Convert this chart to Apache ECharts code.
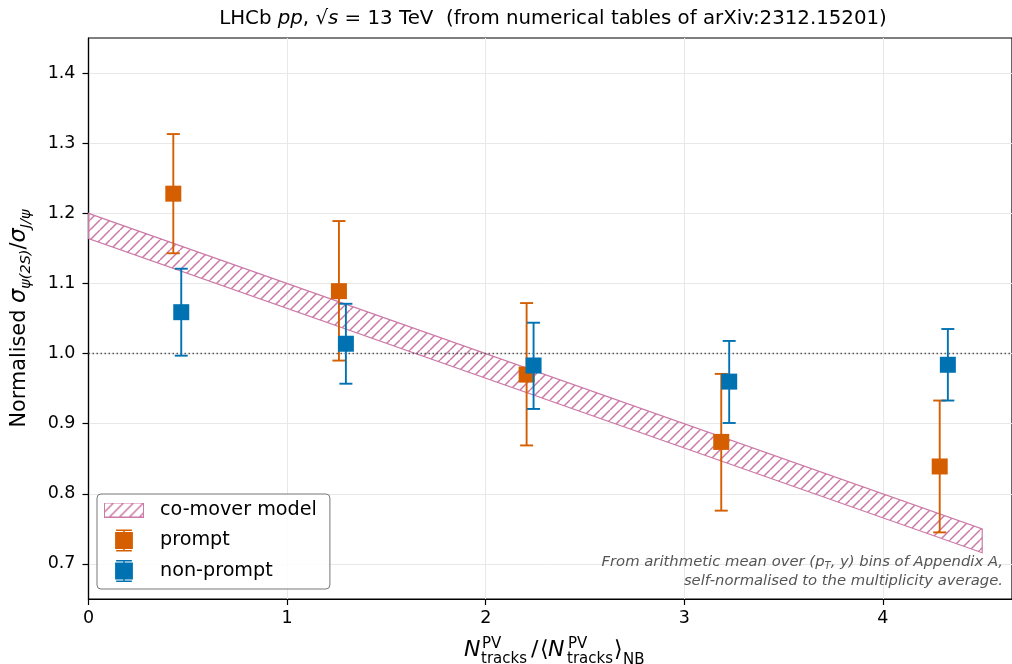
<!DOCTYPE html>
<html><head><meta charset="utf-8">
<script src="https://cdn.jsdelivr.net/npm/echarts@6/dist/echarts.min.js"></script>
<style>html,body{margin:0;padding:0;background:#fff}#c{width:1012px;height:664px}</style>
</head><body><div id="c"></div>
<script>
// ---- data ----
const promptX   = [0.427, 1.261, 2.206, 3.186, 4.286];
const promptY   = [1.228, 1.089, 0.970, 0.874, 0.839];
const promptLo  = [1.143, 0.990, 0.869, 0.776, 0.745];
const promptHi  = [1.313, 1.189, 1.072, 0.971, 0.933];
const nonPromptX  = [0.467, 1.296, 2.241, 3.226, 4.327];
const nonPromptY  = [1.059, 1.014, 0.983, 0.960, 0.984];
const nonPromptLo = [0.997, 0.957, 0.921, 0.901, 0.933];
const nonPromptHi = [1.121, 1.071, 1.044, 1.018, 1.035];
const bandX     = [0, 4.5];
const bandUpper = [1.200, 0.750];
const bandLower = [1.164, 0.716];
const xTicks = [0, 1, 2, 3, 4];
const yTicks = [0.7, 0.8, 0.9, 1.0, 1.1, 1.2, 1.3, 1.4];
const refLine = 1.0;

const PINK = '#CC79A7', ORANGE = '#D55E00', BLUE = '#0072B2';
const FONT = 'DejaVu Sans';

function hatchCanvas(w, h, size, color, lw, border) {
  const c = document.createElement('canvas'); c.width = w; c.height = h;
  const g = c.getContext('2d');
  g.strokeStyle = color; g.lineWidth = lw;
  g.beginPath();
  for (let k = -h - size; k < w + h + size; k += size) { g.moveTo(k, h); g.lineTo(k + h, 0); }
  g.stroke();
  if (border) { g.lineWidth = 1; g.strokeRect(0.5, 0.5, w - 1, h - 1); }
  return c;
}
const hatchTile = hatchCanvas(10, 10, 10, PINK, 1.5, false);
const hatchIcon = hatchCanvas(40, 15, 10, PINK, 1.5, true).toDataURL();
const errIcon = 'path://M1,0L16,0L16,1.5L9.2,1.5L9.2,2.5L17,2.5L17,18.5L9.2,18.5L9.2,19.5L16,19.5L16,21L1,21L1,19.5L7.8,19.5L7.8,18.5L0,18.5L0,2.5L7.8,2.5L7.8,1.5L1,1.5Z';

function errSeries(name, xs, lo, hi, color, z) {
  return {
    type: 'custom', name, z, itemStyle: {color},
    data: xs.map((x, i) => [x, lo[i], hi[i]]),
    renderItem(params, api) {
      const x = api.value(0);
      const l = api.coord([x, api.value(1)]);
      const h = api.coord([x, api.value(2)]);
      const cw = 6.5, st = {stroke: color, lineWidth: 1.9};
      return {type: 'group', children: [
        {type: 'line', shape: {x1: l[0], y1: l[1], x2: h[0], y2: h[1]}, style: st},
        {type: 'line', shape: {x1: l[0] - cw, y1: l[1], x2: l[0] + cw, y2: l[1]}, style: st},
        {type: 'line', shape: {x1: h[0] - cw, y1: h[1], x2: h[0] + cw, y2: h[1]}, style: st}
      ]};
    }
  };
}

function t(text, x, y, font) {
  return {type: 'text', x, y, style: {text, font, fill: '#000', verticalAlign: 'middle'}};
}

const chart = echarts.init(document.getElementById('c'));
const option = {
  animation: false,
  textStyle: {fontFamily: FONT},
  grid: {left: 87, right: 0, top: 38, bottom: 65, show: true, borderColor: '#000', borderWidth: 1.2, backgroundColor: 'transparent'},
  xAxis: {
    type: 'value', min: 0, max: 4.65,
    axisLine: {show: true, lineStyle: {color: '#000', width: 1.2}},
    axisTick: {show: true, length: 6, inside: false, lineStyle: {color: '#000', width: 1.2}, customValues: xTicks},
    axisLabel: {fontSize: 17.5, color: '#000', margin: 10, fontFamily: FONT, customValues: xTicks, formatter: v => String(v)},
    splitLine: {show: true, lineStyle: {color: '#e8e8e8', width: 1}}
  },
  yAxis: {
    type: 'value', min: 0.65, max: 1.45,
    axisLine: {show: true, lineStyle: {color: '#000', width: 1.2}},
    axisTick: {show: true, length: 6, lineStyle: {color: '#000', width: 1.2}, customValues: yTicks},
    axisLabel: {fontSize: 17.5, color: '#000', margin: 13, fontFamily: FONT, customValues: yTicks, formatter: v => v.toFixed(1)},
    splitLine: {show: true, lineStyle: {color: '#e8e8e8', width: 1}},
    name: '{n|Normalised }{s|σ}{sub|ψ(2S)}{n|/}{s|σ}{sub|J/ψ}',
    nameLocation: 'middle', nameRotate: 90, nameGap: 55,
    nameTextStyle: {
      color: '#000',
      rich: {
        n: {fontSize: 20.8, lineHeight: 28, fontFamily: FONT, color: '#000'},
        s: {fontSize: 22.5, lineHeight: 28, fontStyle: 'italic', fontFamily: FONT, color: '#000'},
        sub: {fontSize: 14.5, lineHeight: 14, verticalAlign: 'bottom', fontStyle: 'italic', fontFamily: FONT, color: '#000'}
      }
    }
  },
  legend: {
    orient: 'vertical', left: 97, top: 494,
    padding: [5, 13, 7, 7], itemGap: 8.5, itemWidth: 40, itemHeight: 22,
    backgroundColor: 'rgba(255,255,255,0.85)', borderColor: '#777', borderWidth: 1, borderRadius: 4,
    textStyle: {fontSize: 19.2, color: '#000', fontFamily: FONT, padding: [0, 0, 0, 11]},
    data: [
      {name: 'co-mover model', icon: 'image://' + hatchIcon},
      {name: 'prompt', icon: errIcon},
      {name: 'non-prompt', icon: errIcon}
    ]
  },
  graphic: [
    {type: 'text', x: 553, y: 19, z: 10, style: {
      text: '{n|LHCb }{i|pp}{n|, √}{i|s}{n| = 13 TeV  (from numerical tables of arXiv:2312.15201)}',
      align: 'center', verticalAlign: 'middle',
      rich: {n: {fontSize: 19.8, fontFamily: FONT, fill: '#000'}, i: {fontSize: 19.8, fontFamily: FONT, fontStyle: 'italic', fill: '#000'}}
    }},
    {type: 'text', x: 1003, y: 562, z: 10, style: {
      text: '{a|From arithmetic mean over (}{i|p}{s|T}{a|, }{i|y}{a|) bins of Appendix A,}',
      align: 'right', verticalAlign: 'middle',
      rich: {
        a: {fontSize: 14.8, fontFamily: FONT, fontStyle: 'italic', fill: '#555', lineHeight: 18},
        i: {fontSize: 14.8, fontFamily: FONT, fontStyle: 'italic', fill: '#555', lineHeight: 18},
        s: {fontSize: 10, fontFamily: FONT, fontStyle: 'italic', fill: '#555', lineHeight: 10, verticalAlign: 'bottom'}
      }
    }},
    {type: 'text', x: 1003, y: 581, z: 10, style: {
      text: 'self-normalised to the multiplicity average.', align: 'right', verticalAlign: 'middle',
      font: 'italic 14.8px "DejaVu Sans"', fill: '#555'
    }},
    // x-axis label
    {type: 'group', z: 10, children: [
      t('N', 464, 650, 'italic 22px "DejaVu Sans"'),
      t('PV', 482, 644.5, '15px "DejaVu Sans"'),
      t('tracks', 481, 659, '15px "DejaVu Sans"'),
      t('/', 531, 650, '22px "DejaVu Sans"'),
      t('⟨', 540, 650, '22px "DejaVu Sans"'),
      t('N', 548, 650, 'italic 22px "DejaVu Sans"'),
      t('PV', 568, 644.5, '15px "DejaVu Sans"'),
      t('tracks', 567, 659, '15px "DejaVu Sans"'),
      t('⟩', 614, 650, '22px "DejaVu Sans"'),
      t('NB', 623, 660, '15px "DejaVu Sans"')
    ]}
  ],
  series: [
    {
      type: 'custom', name: 'co-mover model', z: 2, itemStyle: {color: PINK},
      data: bandX.map((x, i) => [x, bandLower[i], bandUpper[i]]),
      renderItem(params, api) {
        if (params.dataIndex !== 0) return null;
        const pts = [];
        bandX.forEach((x, i) => pts.push(api.coord([x, bandUpper[i]])));
        for (let i = bandX.length - 1; i >= 0; i--) pts.push(api.coord([bandX[i], bandLower[i]]));
        return {type: 'polygon', shape: {points: pts},
          style: {fill: {image: hatchTile, repeat: 'repeat'}, stroke: PINK, lineWidth: 1.2}};
      },
      markLine: {
        silent: true, symbol: 'none', label: {show: false},
        lineStyle: {type: [1.5, 2.5], color: '#555', width: 1.3},
        data: [{yAxis: refLine}]
      }
    },
    {type: 'scatter', name: 'prompt', z: 4, symbol: 'rect', symbolSize: 16,
      itemStyle: {color: ORANGE, opacity: 1}, data: promptX.map((x, i) => [x, promptY[i]])},
    errSeries('prompt', promptX, promptLo, promptHi, ORANGE, 3),
    {type: 'scatter', name: 'non-prompt', z: 6, symbol: 'rect', symbolSize: 16,
      itemStyle: {color: BLUE, opacity: 1}, data: nonPromptX.map((x, i) => [x, nonPromptY[i]])},
    errSeries('non-prompt', nonPromptX, nonPromptLo, nonPromptHi, BLUE, 5)
  ]
};
chart.setOption(option);
</script>
</body></html>
